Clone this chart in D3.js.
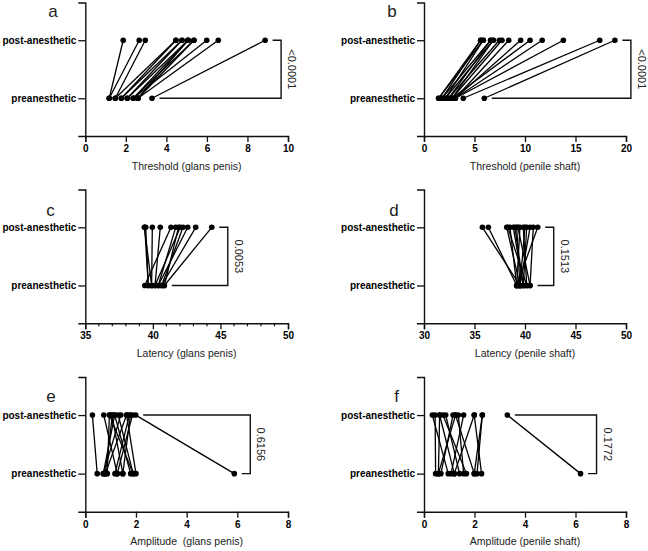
<!DOCTYPE html>
<html>
<head>
<meta charset="utf-8">
<script src="https://cdn.jsdelivr.net/npm/d3@7"></script>
<style>
  html, body { margin: 0; padding: 0; background: #fff; }
  svg { display: block; font-family: "Liberation Sans", Arial, sans-serif; }
</style>
</head>
<body>
<svg id="chart" width="648" height="551"></svg>
<script>
// ---------- data ----------
const categories = ["post-anesthetic", "preanesthetic"];
const panelLetters = ["a", "b", "c", "d", "e", "f"];
const axisTitles = [
  "Threshold (glans penis)", "Threshold (penile shaft)",
  "Latency (glans penis)", "Latency (penile shaft)",
  "Amplitude  (glans penis)", "Amplitude (penile shaft)"
];
const pValues = ["<0.0001", "<0.0001", "0.0053", "0.1513", "0.6156", "0.1772"];

const xDomains = [[0, 10], [0, 20], [35, 50], [30, 50], [0, 8], [0, 8]];
const xTicks = [
  [0, 2, 4, 6, 8, 10],
  [0, 5, 10, 15, 20],
  [35, 40, 45, 50],
  [30, 35, 40, 45, 50],
  [0, 2, 4, 6, 8],
  [0, 2, 4, 6, 8]
];
const minorTicksC = [36, 37, 38, 39, 41, 42, 43, 44, 46, 47, 48, 49];

// threshold, glans penis
const aPre  = [1.18, 1.18, 1.48, 1.48, 1.78, 1.78, 2.07, 2.07, 2.37, 2.37, 2.37, 2.60, 2.60, 2.60, 3.29];
const aPost = [1.87, 2.66, 2.96, 4.47, 4.47, 4.77, 4.77, 5.07, 5.07, 5.36, 5.99, 5.36, 5.07, 6.56, 8.87];
// threshold, penile shaft
const bPre  = [1.45, 1.45, 1.78, 1.78, 2.11, 2.11, 2.44, 2.44, 2.77, 2.77, 3.10, 3.10, 2.77, 3.10, 3.10, 3.89, 5.97];
const bPost = [5.61, 5.87, 5.61, 6.60, 5.87, 6.86, 6.60, 7.46, 7.72, 6.86, 8.39, 9.57, 10.5, 11.7, 13.8, 17.4, 18.9];
// latency, glans penis
const cPre  = [39.91, 39.66, 39.91, 40.16, 39.40, 40.40, 40.16, 40.65, 40.40, 40.65, 40.85, 40.85, 39.66];
const cPost = [39.37, 39.47, 39.96, 40.55, 41.34, 41.69, 42.03, 42.23, 42.58, 43.17, 44.36, 41.90, 39.40];
// latency, penile shaft
const dPre  = [39.50, 39.18, 39.50, 39.18, 39.83, 39.50, 39.18, 40.17, 39.83, 39.50, 40.50, 39.18, 40.17, 39.83, 40.50, 39.50];
const dPost = [35.78, 36.37, 38.19, 38.51, 38.84, 39.18, 39.50, 39.83, 40.17, 40.50, 40.82, 41.26, 38.30, 39.00, 39.30, 40.00];
// amplitude, glans penis
const ePre  = [0.47, 0.71, 0.79, 0.87, 1.17, 1.26, 1.48, 1.79, 1.89, 2.00, 5.88, 0.79, 1.26, 1.89, 0.71, 1.48];
const ePost = [0.28, 1.40, 1.63, 0.95, 1.74, 0.73, 1.05, 1.16, 1.30, 1.63, 1.99, 1.07, 1.86, 0.96, 1.16, 1.78];
// amplitude, penile shaft
const fPre  = [0.46, 0.57, 0.67, 0.96, 1.07, 1.20, 1.41, 1.57, 1.68, 1.99, 2.10, 2.28, 6.20, 0.57, 1.20, 1.99];
const fPost = [0.44, 1.25, 1.15, 0.33, 1.57, 0.62, 0.86, 1.36, 0.75, 1.25, 2.31, 1.99, 3.30, 0.62, 1.99, 2.31];

const preSeries  = [aPre, bPre, cPre, dPre, ePre, fPre];
const postSeries = [aPost, bPost, cPost, dPost, ePost, fPost];

// ---------- layout ----------
const colX = [[85.3, 288], [424, 626]];
const rowY = [[2.5, 136], [189.5, 323.3], [377, 511.7]];
const letterPos = [[53, 17], [392, 17], [50.5, 216], [394, 216], [51, 402], [396.5, 402]];
const ink = "#111";

const svg = d3.select("#chart");

for (let i = 0; i < 6; i++) {
  const col = i % 2, row = Math.floor(i / 2);
  const [x0, x1] = colX[col];
  const [yTop, yBot] = rowY[row];
  const x = d3.scaleLinear().domain(xDomains[i]).range([x0, x1]);
  const y = d3.scalePoint().domain(categories).range([yTop, yBot]).padding(0.65);
  const g = svg.append("g");

  // x axis
  const gx = g.append("g").attr("transform", `translate(0,${yBot})`)
    .call(d3.axisBottom(x).tickValues(xTicks[i]).tickSizeOuter(0).tickSize(6).tickPadding(3).tickFormat(d3.format("d")));
  gx.select(".domain").attr("stroke", ink).attr("stroke-width", 1.4);
  gx.selectAll(".tick line").attr("stroke", ink).attr("stroke-width", 1.3);
  gx.selectAll(".tick text").attr("font-size", 10).attr("font-weight", "bold")
    .attr("fill", "#000").attr("font-family", "'Liberation Sans', Arial, sans-serif");

  if (i === 2) {
    g.append("g").selectAll("line").data(minorTicksC).join("line")
      .attr("x1", d => x(d)).attr("x2", d => x(d))
      .attr("y1", yBot).attr("y2", yBot + 3)
      .attr("stroke", ink).attr("stroke-width", 1.2);
  }

  // y axis
  const gy = g.append("g").attr("transform", `translate(${x0},0)`)
    .call(d3.axisLeft(y).tickSizeOuter(0).tickSize(7).tickPadding(2));
  gy.select(".domain").attr("stroke", ink).attr("stroke-width", 1.4);
  gy.selectAll(".tick line").attr("stroke", ink).attr("stroke-width", 1.3);
  gy.selectAll(".tick text").attr("font-size", 10).attr("font-weight", "bold")
    .attr("fill", "#000").attr("font-family", "'Liberation Sans', Arial, sans-serif");

  // axis title
  g.append("text")
    .attr("x", (x0 + x1) / 2).attr("y", yBot + 33.5)
    .attr("text-anchor", "middle").attr("font-size", 10.5)
    .attr("fill", "#222").style("white-space", "pre")
    .text(axisTitles[i]);

  // panel letter
  g.append("text")
    .attr("x", letterPos[i][0]).attr("y", letterPos[i][1])
    .attr("text-anchor", "middle").attr("font-size", 17)
    .attr("fill", "#222").text(panelLetters[i]);

  // paired data
  const pre = preSeries[i], post = postSeries[i];
  const pairs = pre.map((v, k) => ({ pre: v, post: post[k] }));
  const yPre = y("preanesthetic"), yPost = y("post-anesthetic");

  g.append("g").selectAll("line").data(pairs).join("line")
    .attr("x1", d => x(d.pre)).attr("y1", yPre)
    .attr("x2", d => x(d.post)).attr("y2", yPost)
    .attr("stroke", "#000").attr("stroke-width", 1.3);

  const dots = pairs.flatMap(d => [
    { v: d.pre, c: "preanesthetic" },
    { v: d.post, c: "post-anesthetic" }
  ]);
  g.append("g").selectAll("circle").data(dots).join("circle")
    .attr("cx", d => x(d.v)).attr("cy", d => y(d.c))
    .attr("r", 2.8).attr("fill", "#000");

  // significance bracket
  const preMax = d3.max(pre), postMax = d3.max(post);
  const xBr = x(Math.max(preMax, postMax)) + 16;
  g.append("path")
    .attr("d", `M${x(postMax) + 7.5},${yPost}H${xBr}V${yPre}H${x(preMax) + 7.5}`)
    .attr("fill", "none").attr("stroke", ink).attr("stroke-width", 1.4);
  g.append("text")
    .attr("transform", `translate(${xBr + 11},${(yPost + yPre) / 2}) rotate(90)`)
    .attr("text-anchor", "middle").attr("dominant-baseline", "central")
    .attr("font-size", 11).attr("fill", "#222")
    .text(pValues[i]);
}
</script>
</body>
</html>
